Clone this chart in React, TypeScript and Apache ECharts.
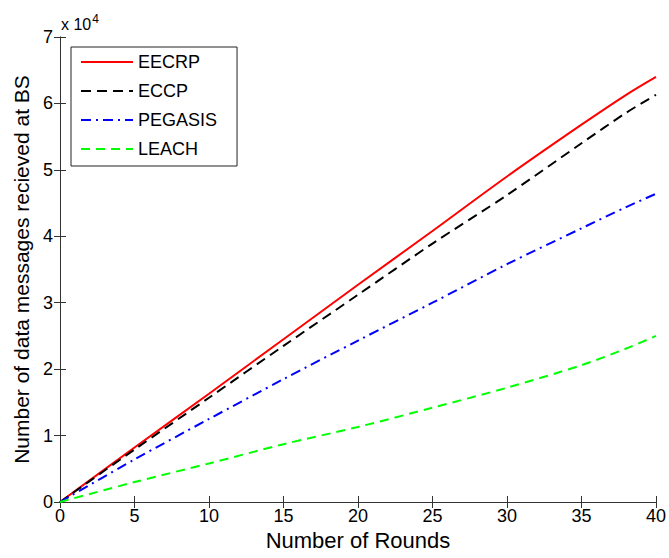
import React, { useEffect, useRef } from "react";
import * as echarts from "echarts";

const rounds = [0, 5, 10, 15, 20, 25, 30, 35, 38, 40];
const eecrp = [0, 8200, 16300, 24500, 32700, 40800, 49000, 56800, 61300, 64000];
const eccp = [0, 7900, 15700, 23500, 31200, 38900, 46200, 54000, 58600, 61300];
const pegasis = [0, 6400, 12500, 18500, 24300, 30000, 35800, 41200, 44400, 46400];
const leach = [0, 3000, 5800, 8700, 11300, 14200, 17200, 20600, 23100, 25000];
const seriesNames = ["EECRP", "ECCP", "PEGASIS", "LEACH"];
const xTicks = { min: 0, max: 40, interval: 5 };
const yTicks = { min: 0, max: 70000, interval: 10000 };

const FONT = 'Arial, "Liberation Sans", Helvetica, sans-serif';

export default function App() {
  const ref = useRef<HTMLDivElement>(null);
  useEffect(() => {
    const chart = echarts.init(ref.current!, null, { renderer: "svg" });
    const pair = (ys: number[]) => rounds.map((x, i) => [x, ys[i]]);
    const axisLine = { show: true, lineStyle: { color: "#333", width: 1 } };
    const tick = { show: true, inside: true, length: 6, lineStyle: { color: "#333" } };
    const styles = [
      { color: "#ff0000", type: "solid" as any },
      { color: "#000000", type: [10, 6] as any },
      { color: "#0000ff", type: [10, 5, 2, 5] as any },
      { color: "#00ff00", type: [9, 6] as any },
    ];
    const datas = [eecrp, eccp, pegasis, leach];
    chart.setOption({
      animation: false,
      backgroundColor: "#fff",
      textStyle: { fontFamily: FONT },
      grid: { left: 60, right: 12, top: 37, bottom: 56, containLabel: false },
      legend: {
        orient: "vertical",
        left: 71,
        top: 47,
        backgroundColor: "#fff",
        borderColor: "#222",
        borderWidth: 1,
        borderRadius: 0,
        padding: [6, 20, 8, 9],
        itemWidth: 52,
        itemHeight: 14,
        itemGap: 11,
        itemStyle: { opacity: 0 },
        textStyle: { fontSize: 18, color: "#000", fontFamily: FONT, lineHeight: 18 },
        data: seriesNames,
      },
      xAxis: [
        {
          type: "value",
          ...xTicks,
          position: "bottom",
          axisLine,
          axisTick: tick,
          splitLine: { show: false },
          axisLabel: { fontSize: 18, color: "#000", margin: 5, fontFamily: FONT },
          name: "Number of Rounds",
          nameLocation: "middle",
          nameGap: 27,
          nameTextStyle: { fontSize: 22, color: "#000", fontFamily: FONT },
        },
        {
          type: "value",
          ...xTicks,
          position: "top",
          axisLine,
          axisTick: tick,
          splitLine: { show: false },
          axisLabel: { show: false },
        },
      ],
      yAxis: [
        {
          type: "value",
          ...yTicks,
          position: "left",
          axisLine,
          axisTick: tick,
          splitLine: { show: false },
          axisLabel: {
            fontSize: 18,
            color: "#000",
            margin: 7,
            fontFamily: FONT,
            formatter: (v: number) => String(v / 10000),
          },
          name: "Number of data messages recieved at BS",
          nameLocation: "middle",
          nameGap: 22,
          nameTextStyle: { fontSize: 21, color: "#000", fontFamily: FONT },
        },
        {
          type: "value",
          ...yTicks,
          position: "right",
          axisLine,
          axisTick: tick,
          splitLine: { show: false },
          axisLabel: { show: false },
        },
      ],
      graphic: [
        {
          type: "text",
          left: 61,
          top: 13,
          style: {
            text: "x 10{sup|4}",
            fontSize: 16,
            fontFamily: FONT,
            fill: "#000",
            rich: { sup: { fontSize: 12, verticalAlign: "bottom", padding: [0, 0, 10, 1], fontFamily: FONT } },
          },
        },
      ],
      series: datas.map((d, i) => ({
        name: seriesNames[i],
        type: "line",
        data: pair(d),
        showSymbol: false,
        symbol: "none",
        smooth: 0.3,
        lineStyle: { width: 2, ...styles[i] },
        itemStyle: { color: styles[i].color },
        color: styles[i].color,
      })),
    });
    return () => chart.dispose();
  }, []);
  return (
    <div
      ref={ref}
      style={{ position: "absolute", left: 0, top: 0, width: 669, height: 558 }}
    />
  );
}
